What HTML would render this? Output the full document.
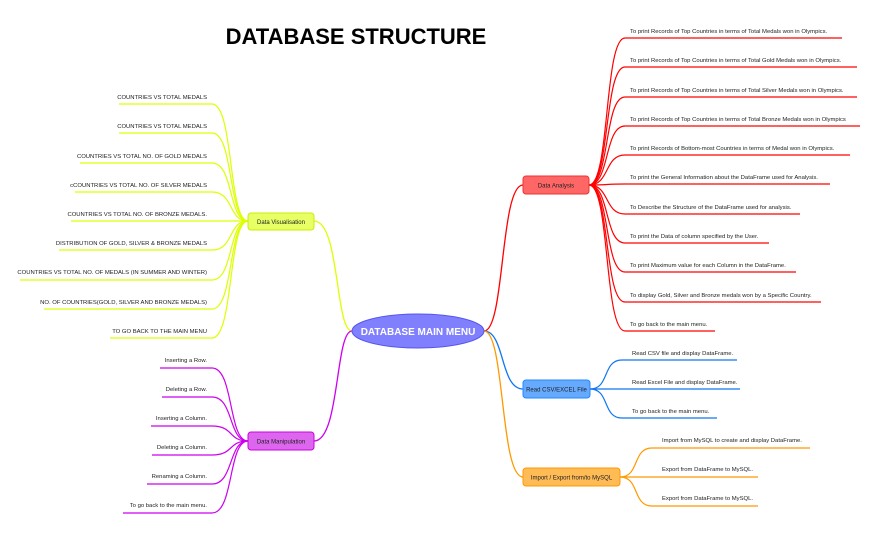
<!DOCTYPE html>
<html><head><meta charset="utf-8"><style>
html,body{margin:0;padding:0;background:#fff;}
svg{display:block;font-family:"Liberation Sans",sans-serif;}
.l{font-size:5.9px;fill:#222;}
.n{font-size:6px;fill:#222;}
</style></head><body>
<svg width="878" height="535" viewBox="0 0 878 535" xmlns="http://www.w3.org/2000/svg">
<text x="356" y="44" font-size="22" font-weight="bold" text-anchor="middle" fill="#000">DATABASE STRUCTURE</text>

<g fill="none" stroke-width="1.3">
<path d="M352,331 C335,331 340,221 314,221" stroke="#ddff00"/>
<path d="M352,331 C335,331 340,441 314,441" stroke="#cc00ee"/>
<path d="M484,331 C505,331 500,185 523,185" stroke="#ff0000"/>
<path d="M484,331 C505,331 500,389 523,389" stroke="#1177ee"/>
<path d="M484,331 C505,331 500,477 523,477" stroke="#ff9900"/>
</g>

<g fill="none" stroke="#ddff00" stroke-width="1.2">
<path d="M248,221 C228,221 234,104 212,104 L119,104"/>
<path d="M248,221 C228,221 234,133 212,133 L119,133"/>
<path d="M248,221 C228,221 234,163 212,163 L80,163"/>
<path d="M248,221 C228,221 234,192 212,192 L75,192"/>
<path d="M248,221 L71,221"/>
<path d="M248,221 C228,221 234,250 212,250 L59,250"/>
<path d="M248,221 C228,221 234,280 212,280 L20,280"/>
<path d="M248,221 C228,221 234,309 212,309 L44,309"/>
<path d="M248,221 C228,221 234,338 212,338 L110,338"/>
</g>
<g class="l" text-anchor="end">
<text x="207" y="99">COUNTRIES VS TOTAL MEDALS</text>
<text x="207" y="128">COUNTRIES VS TOTAL MEDALS</text>
<text x="207" y="158">COUNTRIES VS TOTAL NO. OF GOLD MEDALS</text>
<text x="207" y="187">cCOUNTRIES VS TOTAL NO. OF SILVER MEDALS</text>
<text x="207" y="216">COUNTRIES VS TOTAL NO. OF BRONZE MEDALS.</text>
<text x="207" y="245">DISTRIBUTION OF GOLD, SILVER &amp; BRONZE MEDALS</text>
<text x="207" y="274">COUNTRIES VS TOTAL NO. OF MEDALS (IN SUMMER AND WINTER)</text>
<text x="207" y="304">NO. OF COUNTRIES(GOLD, SILVER AND BRONZE MEDALS)</text>
<text x="207" y="333">TO GO BACK TO THE MAIN MENU</text>
</g>

<g fill="none" stroke="#cc00ee" stroke-width="1.2">
<path d="M248,441 C228,441 234,368 212,368 L160,368"/>
<path d="M248,441 C228,441 234,397 212,397 L162,397"/>
<path d="M248,441 C228,441 234,426 212,426 L151,426"/>
<path d="M248,441 C228,441 234,455 212,455 L152,455"/>
<path d="M248,441 C228,441 234,484 212,484 L147,484"/>
<path d="M248,441 C228,441 234,513 212,513 L123,513"/>
</g>
<g class="l" text-anchor="end">
<text x="207" y="362">Inserting a Row.</text>
<text x="207" y="391">Deleting a Row.</text>
<text x="207" y="420">Inserting a Column.</text>
<text x="207" y="449">Deleting a Column.</text>
<text x="207" y="478">Renaming a Column.</text>
<text x="207" y="507">To go back to the main menu.</text>
</g>

<g fill="none" stroke="#ff0000" stroke-width="1.2">
<path d="M589,185 C610,185 604,38 625,38 L842,38"/>
<path d="M589,185 C610,185 604,67 625,67 L857,67"/>
<path d="M589,185 C610,185 604,97 625,97 L857,97"/>
<path d="M589,185 C610,185 604,126 625,126 L860,126"/>
<path d="M589,185 C610,185 604,155 625,155 L850,155"/>
<path d="M589,185 C610,185 604,184 625,184 L830,184"/>
<path d="M589,185 C610,185 604,214 625,214 L800,214"/>
<path d="M589,185 C610,185 604,243 625,243 L769,243"/>
<path d="M589,185 C610,185 604,272 625,272 L796,272"/>
<path d="M589,185 C610,185 604,302 625,302 L821,302"/>
<path d="M589,185 C610,185 604,331 625,331 L715,331"/>
</g>
<g class="l">
<text x="630" y="33">To print Records of Top Countries in terms of  Total Medals won in Olympics.</text>
<text x="630" y="62">To print  Records of Top Countries in terms of Total Gold Medals won in Olympics.</text>
<text x="630" y="92">To print Records of Top Countries in terms of Total Silver Medals won in Olympics.</text>
<text x="630" y="121">To print Records of Top Countries in terms of Total Bronze Medals won in Olympics</text>
<text x="630" y="150">To print Records of Bottom-most Countries in terms of Medal won in Olympics.</text>
<text x="630" y="179">To print the General Information about the DataFrame used for Analysis.</text>
<text x="630" y="209">To Describe the Structure of the DataFrame used for analysis.</text>
<text x="630" y="238">To print the Data of column specified by the User.</text>
<text x="630" y="267">To print Maximum value for each Column in the DataFrame.</text>
<text x="630" y="297">To display Gold, Silver and Bronze medals won by a Specific Country.</text>
<text x="630" y="326">To go back to the main menu.</text>
</g>

<g fill="none" stroke="#1177ee" stroke-width="1.2">
<path d="M590,389 C610,389 602,360 622,360 L737,360"/>
<path d="M590,389 L740,389"/>
<path d="M590,389 C610,389 602,418 622,418 L717,418"/>
</g>
<g class="l">
<text x="632" y="355">Read CSV file and display DataFrame.</text>
<text x="632" y="384">Read Excel File and display DataFrame.</text>
<text x="632" y="413">To go back to the main menu.</text>
</g>

<g fill="none" stroke="#ff9900" stroke-width="1.2">
<path d="M620,477 C640,477 632,448 652,448 L810,448"/>
<path d="M620,477 L758,477"/>
<path d="M620,477 C640,477 632,506 652,506 L758,506"/>
</g>
<g class="l">
<text x="662" y="442">Import from MySQL to create and display DataFrame.</text>
<text x="662" y="471">Export from DataFrame to MySQL.</text>
<text x="662" y="500">Export from DataFrame to MySQL.</text>
</g>

<rect x="248" y="213" width="66" height="17" rx="3" fill="#e8ff66" stroke="#ccee00"/>
<text class="n" x="281" y="224" text-anchor="middle">Data Visualisation</text>
<rect x="248" y="432" width="66" height="18" rx="3" fill="#dd66ee" stroke="#cc00dd"/>
<text class="n" x="281" y="443.5" text-anchor="middle">Data Manipulation</text>
<rect x="523" y="176" width="66" height="18" rx="3" fill="#ff6666" stroke="#ee3333"/>
<text class="n" x="556" y="187.5" text-anchor="middle">Data Analysis</text>
<rect x="523" y="380" width="67" height="18" rx="3" fill="#66aaff" stroke="#2288ff"/>
<text class="n" x="556.5" y="391.5" text-anchor="middle">Read CSV/EXCEL File</text>
<rect x="523" y="468" width="97" height="18" rx="3" fill="#ffbb55" stroke="#ff9900"/>
<text class="n" x="571.5" y="479.5" text-anchor="middle">Import / Export from/to MySQL</text>

<ellipse cx="418" cy="331" rx="66" ry="17" fill="#8080ff" stroke="#5555ee"/>
<text x="418" y="335" font-size="10" font-weight="bold" fill="#fff" text-anchor="middle">DATABASE MAIN MENU</text>
</svg>
</body></html>
